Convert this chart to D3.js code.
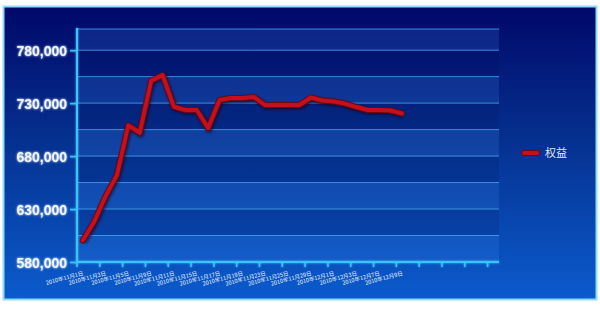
<!DOCTYPE html>
<html>
<head>
<meta charset="utf-8">
<title>权益</title>
<script src="https://cdn.jsdelivr.net/npm/d3@7"></script>
<style>
  body { margin: 0; background: #fff; }
  svg { display: block; }
  .ylab { font-family: "Liberation Sans", Arial, sans-serif; font-weight: bold; font-size: 14px; fill: #eef6ff; }
  .xlab { font-family: "Noto Sans CJK SC", sans-serif; font-size: 5.6px; fill: #e8f2ff; }
  .leg { font-family: "Noto Sans CJK SC", serif; font-size: 11px; fill: #dfe9ff; }
</style>
</head>
<body>
<script>
// 交易日
var dates = ["2010年11月1日", "2010年11月2日", "2010年11月3日", "2010年11月4日", "2010年11月5日",
  "2010年11月8日", "2010年11月9日", "2010年11月10日", "2010年11月11日", "2010年11月12日",
  "2010年11月15日", "2010年11月16日", "2010年11月17日", "2010年11月18日", "2010年11月19日",
  "2010年11月22日", "2010年11月23日", "2010年11月24日", "2010年11月25日", "2010年11月26日",
  "2010年11月29日", "2010年11月30日", "2010年12月1日", "2010年12月2日", "2010年12月3日",
  "2010年12月6日", "2010年12月7日", "2010年12月8日", "2010年12月9日"];
// 权益
var equity = [600300, 618000, 642000, 662000, 709000, 702000, 751000, 756500, 726600, 723500,
  723500, 706500, 733000, 734800, 734800, 735800, 728200, 728200, 728200, 728200,
  735300, 732500, 731500, 729600, 726300, 723500, 723500, 723000, 720200];
var seriesName = "权益";
var yTicks = [580000, 630000, 680000, 730000, 780000];
var yGrid = [580000, 605000, 630000, 655000, 680000, 705000, 730000, 755000, 780000];
var nSlots = 37; // 横轴的分类格数

var W = 600, H = 309;
var pLeft = 77, pRight = 499, pTop = 29, pBottom = 262;

var svg = d3.select("body").append("svg").attr("width", W).attr("height", H);
var defs = svg.append("defs");

var bg = defs.append("linearGradient").attr("id", "bg").attr("x1", 0).attr("y1", 0).attr("x2", 0).attr("y2", 1);
bg.append("stop").attr("offset", "0%").attr("stop-color", "#000869");
bg.append("stop").attr("offset", "45%").attr("stop-color", "#05308f");
bg.append("stop").attr("offset", "100%").attr("stop-color", "#0b5bcd");

var glow = defs.append("filter").attr("id", "glow").attr("x", "-20%").attr("y", "-20%").attr("width", "140%").attr("height", "140%");
glow.append("feGaussianBlur").attr("stdDeviation", 1.2).attr("result", "b");
var m = glow.append("feMerge");
m.append("feMergeNode").attr("in", "b");
m.append("feMergeNode").attr("in", "SourceGraphic");

var shadow = defs.append("filter").attr("id", "shadow").attr("x", "-10%").attr("y", "-10%").attr("width", "120%").attr("height", "120%");
shadow.append("feGaussianBlur").attr("stdDeviation", 1.5);

// 外框
svg.append("rect").attr("x", 3.5).attr("y", 6.5).attr("width", 593).attr("height", 293)
  .attr("fill", "url(#bg)").attr("stroke", "#8fdcff").attr("stroke-width", 2);

var x = d3.scaleLinear().domain([0, nSlots]).range([pLeft, pRight]);
var y = d3.scaleLinear().domain([580000, 800000]).range([pBottom, pTop]);

// 条带
var bandEdges = yGrid.concat([800000]);
svg.append("g").selectAll("rect")
  .data(d3.range(bandEdges.length - 1))
  .join("rect")
  .attr("x", pLeft).attr("width", pRight - pLeft)
  .attr("y", function(i) { return y(bandEdges[i + 1]); })
  .attr("height", function(i) { return y(bandEdges[i]) - y(bandEdges[i + 1]); })
  .attr("fill", function(i) { return i % 2 === 0 ? "#4a9cff" : "#000840"; })
  .attr("fill-opacity", function(i) { return i % 2 === 0 ? 0.16 : 0.12; });

// 网格线
svg.append("g").selectAll("line")
  .data(yGrid.slice(1).concat([800000]))
  .join("line")
  .attr("x1", pLeft).attr("x2", pRight)
  .attr("y1", function(d) { return y(d); }).attr("y2", function(d) { return y(d); })
  .attr("stroke", "#4aa6f2").attr("stroke-width", 1).attr("stroke-opacity", 0.8);

// 坐标轴
var axisG = svg.append("g").attr("filter", "url(#glow)");
var yAxis = d3.axisLeft(y).tickValues(yTicks).tickFormat(d3.format(",")).tickSize(7).tickPadding(3);
var gy = axisG.append("g").attr("transform", "translate(" + pLeft + ",0)").call(yAxis);
gy.select(".domain").remove();
gy.selectAll(".tick line").attr("stroke", "#3cc4ff").attr("stroke-width", 1.5);
gy.selectAll(".tick text").attr("class", "ylab").attr("dy", "0.36em");

var xTickIdx = d3.range(0, nSlots, 2);
axisG.append("g").selectAll("line")
  .data(xTickIdx)
  .join("line")
  .attr("x1", function(i) { return x(i); }).attr("x2", function(i) { return x(i); })
  .attr("y1", pBottom).attr("y2", pBottom + 5)
  .attr("stroke", "#3cc4ff").attr("stroke-width", 1.5);

axisG.append("line").attr("x1", pLeft).attr("x2", pLeft).attr("y1", pTop - 1).attr("y2", pBottom + 1)
  .attr("stroke", "#3cc4ff").attr("stroke-width", 2);
axisG.append("line").attr("x1", pLeft - 1).attr("x2", pRight).attr("y1", pBottom).attr("y2", pBottom)
  .attr("stroke", "#3cc4ff").attr("stroke-width", 2);

// 横轴标签
svg.append("g").selectAll("text")
  .data(dates.filter(function(d, i) { return i % 2 === 0; }))
  .join("text")
  .attr("class", "xlab")
  .attr("text-anchor", "end")
  .attr("transform", function(d, k) {
    return "translate(" + (x(k * 2 + 0.5) + 1) + "," + (pBottom + 13) + ") rotate(-15)";
  })
  .text(function(d) { return d; });

// 折线
var line = d3.line()
  .x(function(d, i) { return x(i + 0.5); })
  .y(function(d) { return y(d); });

svg.append("path").datum(equity).attr("d", line)
  .attr("fill", "none").attr("stroke", "#1a0010").attr("stroke-opacity", 0.7)
  .attr("stroke-width", 6).attr("stroke-linejoin", "round").attr("filter", "url(#shadow)")
  .attr("transform", "translate(1,1.5)");
svg.append("path").datum(equity).attr("d", line)
  .attr("fill", "none").attr("stroke", "#6a0814")
  .attr("stroke-width", 6).attr("stroke-linejoin", "round").attr("stroke-linecap", "round");
svg.append("path").datum(equity).attr("d", line)
  .attr("fill", "none").attr("stroke", "#c4101c")
  .attr("stroke-width", 4).attr("stroke-linejoin", "round").attr("stroke-linecap", "round");

// 图例
var lg = svg.append("g").attr("transform", "translate(524,153)");
lg.append("line").attr("x1", 0).attr("x2", 13).attr("y1", 0).attr("y2", 0)
  .attr("stroke", "#6a0814").attr("stroke-width", 6).attr("stroke-linecap", "round");
lg.append("line").attr("x1", 0).attr("x2", 13).attr("y1", 0).attr("y2", 0)
  .attr("stroke", "#c4101c").attr("stroke-width", 4).attr("stroke-linecap", "round");
lg.append("text").attr("class", "leg").attr("x", 21).attr("y", 4).text(seriesName);
</script>
</body>
</html>
